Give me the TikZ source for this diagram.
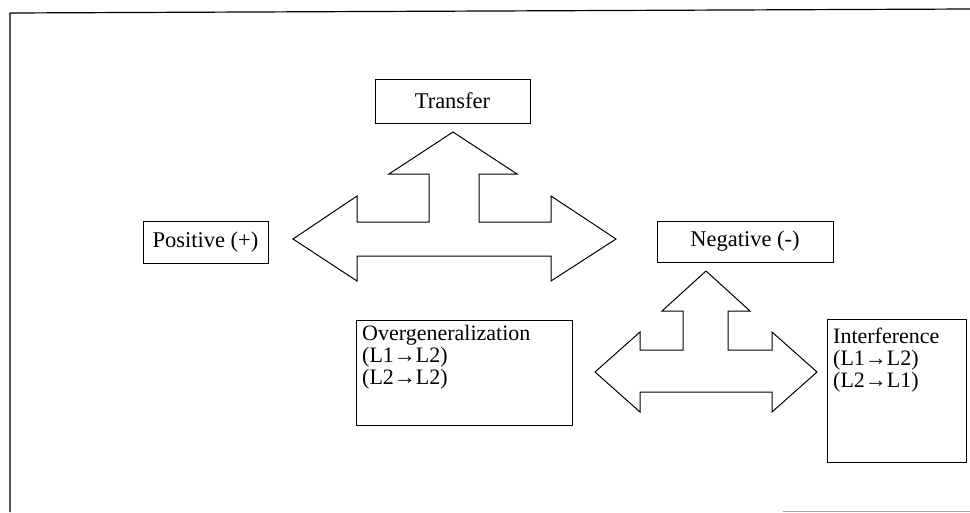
\documentclass[tikz,border=0pt]{standalone}
\usepackage{fontspec}
\setmainfont{Liberation Serif}
\begin{document}
\begin{tikzpicture}[x=1pt,y=-1pt,
  box/.style={draw, line width=1pt, inner sep=0pt, font=\fontsize{22.5}{22}\selectfont},
  bigarrow/.style={draw, line width=1pt, line join=miter},
  txt/.style={inner sep=0pt, align=left, anchor=north west, font=\fontsize{22}{22}\selectfont},
  frame/.style={line width=1.2pt}]
\useasboundingbox (0,0) rectangle (970,512);
% outer frame (partial, as scanned)
\draw[frame] (10,512) -- (10,13) -- (970,9);
\draw[gray!70, line width=1pt] (783,511) -- (970,511);

% boxes
\node[box, minimum width=155pt, minimum height=44pt] (transfer) at (452.5,101) {Transfer};
\node[box, minimum width=125pt, minimum height=42pt] (positive) at (205.5,242) {Positive (+)};
\node[box, minimum width=176pt, minimum height=41pt] (negative) at (745,241.5) {Negative (-)};
\node[box, minimum width=216pt, minimum height=105pt, anchor=north west] (overgen) at (356,320) {};
\node[txt] (overgentext) at (362,325) {Overgeneralization\\(L1→L2)\\(L2→L2)};
\node[box, minimum width=139pt, minimum height=143pt, anchor=north west] (interf) at (827,319) {};
\node[txt] (interftext) at (833,328) {Interference\\(L1→L2)\\(L2→L1)};

% big three-way arrow (Transfer)
\draw[bigarrow] (453,132) -- (517,174) -- (479,174) -- (479,222) -- (551,222) -- (551,196)
  -- (616,239) -- (551,281) -- (551,256) -- (357,256) -- (357,281) -- (293,239)
  -- (357,196) -- (357,222) -- (429,222) -- (429,174) -- (389,174) -- cycle;

% small three-way arrow (Negative)
\draw[bigarrow] (706,271) -- (750,311) -- (728,311) -- (728,350) -- (772,350) -- (772,332)
  -- (817,372) -- (772,412) -- (772,392) -- (640,392) -- (640,412) -- (595,372)
  -- (640,332) -- (640,350) -- (683,350) -- (683,311) -- (662,311) -- cycle;
\end{tikzpicture}
\end{document}
